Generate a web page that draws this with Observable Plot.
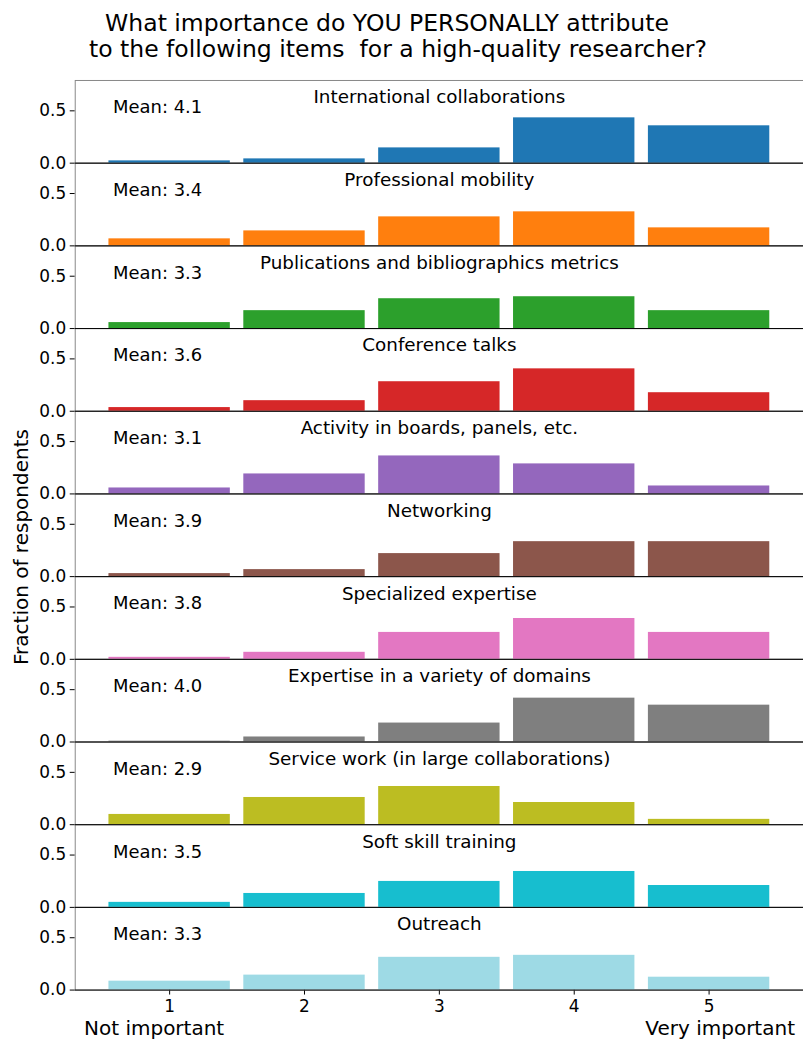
<!DOCTYPE html>
<html><head><meta charset="utf-8">
<script src="https://cdn.jsdelivr.net/npm/d3@7"></script>
<script src="https://cdn.jsdelivr.net/npm/@observablehq/plot@0.6"></script>
<style>
html,body{margin:0;padding:0;background:#fff;overflow:hidden;}
#wrap{position:relative;width:803px;height:1040px;overflow:hidden;font-family:"DejaVu Sans",sans-serif;color:#000;background:#fff;}
.tl{position:absolute;left:0;width:803px;text-align:center;white-space:pre;font-size:23.5px;line-height:26px;}
#ylab{position:absolute;left:-129.5px;top:535px;width:300px;height:24px;line-height:24px;font-size:20px;text-align:center;transform:rotate(-90deg);white-space:nowrap;z-index:2;}
.xl{position:absolute;top:1018px;height:20px;line-height:20px;font-size:20px;white-space:nowrap;z-index:2;}
#chart{position:absolute;left:0;top:75px;line-height:0;}
</style></head><body>
<div id="wrap">
  <div class="tl" style="top:9.5px;transform:translateX(-14.5px)">What importance do YOU PERSONALLY attribute</div>
  <div class="tl" style="top:35.5px;transform:translateX(-3.5px)">to the following items  for a high-quality researcher?</div>
  <div id="chart"></div>
  <div id="ylab">Fraction of respondents</div>
  <div class="xl" style="left:84px">Not important</div>
  <div class="xl" style="right:8px">Very important</div>
</div>
<script>
const items = [
  "International collaborations",
  "Professional mobility",
  "Publications and bibliographics metrics",
  "Conference talks",
  "Activity in boards, panels, etc.",
  "Networking",
  "Specialized expertise",
  "Expertise in a variety of domains",
  "Service work (in large collaborations)",
  "Soft skill training",
  "Outreach"
];
const means = [4.1, 3.4, 3.3, 3.6, 3.1, 3.9, 3.8, 4.0, 2.9, 3.5, 3.3];
const scores = [1, 2, 3, 4, 5];
const colors = ["#1f77b4", "#ff7f0e", "#2ca02c", "#d62728", "#9467bd", "#8c564b", "#e377c2", "#7f7f7f", "#bcbd22", "#17becf", "#9edae5"];

const intl         = [0.022, 0.041, 0.146, 0.433, 0.357];
const mobility     = [0.067, 0.143, 0.277, 0.325, 0.172];
const publications = [0.057, 0.171, 0.285, 0.304, 0.171];
const talks        = [0.035, 0.101, 0.282, 0.405, 0.177];
const boards       = [0.057, 0.191, 0.363, 0.287, 0.076];
const networking   = [0.029, 0.067, 0.220, 0.334, 0.334];
const specialized  = [0.019, 0.067, 0.257, 0.390, 0.257];
const variety      = [0.008, 0.048, 0.181, 0.419, 0.352];
const service      = [0.098, 0.260, 0.365, 0.212, 0.051];
const softskills   = [0.048, 0.133, 0.248, 0.343, 0.209];
const outreach     = [0.085, 0.143, 0.313, 0.332, 0.123];

const series = [intl, mobility, publications, talks, boards, networking, specialized, variety, service, softskills, outreach];
const rows = [];
items.forEach((item, i) => scores.forEach((s, j) => rows.push({item, score: s, value: series[i][j]})));
const meanRows = items.map((item, i) => ({item, mean: means[i]}));

const chart = Plot.plot({
  width: 806, height: 968,
  marginTop: 5, marginBottom: 50, marginLeft: 75, marginRight: 0,
  style: {fontFamily: "DejaVu Sans", fontSize: "17px", color: "#000", background: "white"},
  x: {type: "band", domain: scores, paddingInner: 0.1, paddingOuter: 0.25, round: false, label: null, tickSize: 5, tickPadding: 5},
  y: {domain: [0, 0.79], ticks: [0, 0.5], tickFormat: d3.format(".1f"), label: null, tickSize: 5, tickPadding: 4},
  fy: {domain: items, paddingInner: 0, paddingOuter: 0, round: false, axis: null},
  facet: {marginTop: 0, marginBottom: 0, marginLeft: 0, marginRight: 0},
  color: {domain: items, range: colors},
  marks: [
    Plot.frame({stroke: "#888"}),
    Plot.barY(rows, {x: "score", y: "value", fy: "item", fill: "item"}),
    Plot.ruleY([0], {stroke: "#000"}),
    Plot.text(items, {fy: d => d, text: d => d, frameAnchor: "top", lineAnchor: "bottom", dy: 23, fontSize: 18.4, fill: "#000"}),
    Plot.text(meanRows, {fy: "item", text: d => `Mean: ${d.mean.toFixed(1)}`, frameAnchor: "top-left", textAnchor: "start", lineAnchor: "bottom", dx: 38, dy: 33, fontSize: 18, fill: "#000"})
  ]
});
document.getElementById("chart").appendChild(chart);
</script>
</body></html>
